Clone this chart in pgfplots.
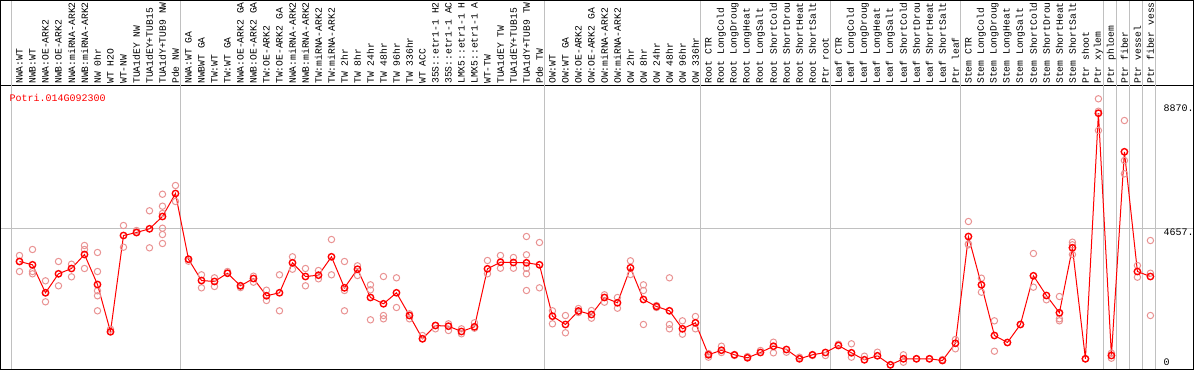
\documentclass[border=0pt]{standalone}
\usepackage{pgfplots}
\pgfplotsset{compat=1.18}
\usepackage{fontspec}
\newfontfamily\lmono{Liberation Mono}
\newcommand{\mf}{\lmono\fontsize{10}{12}\selectfont}
\newcommand{\tf}{\lmono\fontsize{9.7}{12}\selectfont}
\definecolor{rep}{RGB}{233,146,146}
\definecolor{gridc}{RGB}{192,192,192}
\begin{document}
\begin{tikzpicture}
\begin{axis}[
  scale only axis, width=1193pt, height=284pt,
  xmin=-1.461538, xmax=90.307692, ymin=-122.3, ymax=9526.6,
  axis line style={black, line width=1pt},
  clip=false,
  xtick={0,...,87},
  xticklabel pos=upper,
  xticklabel style={rotate=90, anchor=west, font=\tf, inner xsep=1.5pt, inner ysep=0pt},
  xticklabels={NWA:WT, NWB:WT, NWA:OE-ARK2, NWB:OE-ARK2, NWA:miRNA-ARK2, NWB:miRNA-ARK2, NW 0hr, WT H2O, WT-NW, TUA1dEY NW, TUA1dEY+TUB15, TUA1dY+TUB9 NW, Pde NW, NWA:WT GA, NWBWT GA, TW:WT, TW:WT GA, NWA:OE-ARK2 GA, NWB:OE-ARK2 GA, TW:OE-ARK2, TW:OE-ARK2 GA, NWA:miRNA-ARK2, NWB:miRNA-ARK2, TW:miRNA-ARK2, TW:miRNA-ARK2, TW 2hr, TW 8hr, TW 24hr, TW 48hr, TW 96hr, TW 336hr, WT ACC, 35S::etr1-1 H2, 35S::etr1-1 AC, LMX5::etr1-1 H, LMX5::etr1-1 A, WT-TW, TUA1dEY TW, TUA1dEY+TUB15, TUA1dY+TUB9 TW, Pde TW, OW:WT, OW:WT GA, OW:OE-ARK2, OW:OE-ARK2 GA, OW:miRNA-ARK2, OW:miRNA-ARK2, OW 2hr, OW 8hr, OW 24hr, OW 48hr, OW 96hr, OW 336hr, Root CTR, Root LongCold, Root LongDroug, Root LongHeat, Root LongSalt, Root ShortCold, Root ShortDrou, Root ShortHeat, Root ShortSalt, Ptr root, Leaf CTR, Leaf LongCold, Leaf LongDroug, Leaf LongHeat, Leaf LongSalt, Leaf ShortCold, Leaf ShortDrou, Leaf ShortHeat, Leaf ShortSalt, Ptr leaf, Stem CTR, Stem LongCold, Stem LongDroug, Stem LongHeat, Stem LongSalt, Stem ShortCold, Stem ShortDrou, Stem ShortHeat, Stem ShortSalt, Ptr shoot, Ptr xylem, Ptr phloem, Ptr fiber, Ptr vessel, Ptr fiber vess},
  major tick length=0pt,
  ytick={4657}, yticklabels={},
  ymajorgrids, grid style={gridc, line width=1pt},
]
% group separators
\pgfplotsinvokeforeach{-0.6,12.41,40.41,52.41,62.41,72.41,83.41,84.41,85.41,86.41,87.38}{
  \draw[gridc, line width=1pt] (axis cs:#1,-122.3) -- ++(0pt,380pt);
}
% replicates
\addplot[only marks, mark=o, mark size=3.2pt, color=rep, mark options={line width=1pt}] coordinates {
(0,3751)(0,3207)(0,3547)(1,3955)(1,3207)(1,3129)(2,2891)(2,2178)(2,2484)(3,3547)(3,2721)
(4,3455)(4,3027)(5,4091)(5,3955)(5,3309)(6,3853)(6,3207)(6,2552)(6,2382)(6,1872)
(7,1247)(7,1159)(8,4770)(8,4033)(9,4532)(9,4600)(10,5270)(10,4012)
(11,5833)(11,5426)(11,5178)(11,4678)(11,4464)(11,4159)(12,6129)(12,5586)
(13,3557)(13,3625)(14,3095)(14,2653)(15,2993)(15,2698)(16,3149)(16,3207)(17,2721)(17,2660)
(18,3048)(18,2844)(19,2572)(19,2222)(20,3095)(20,1872)(21,3707)(21,3285)(22,3309)(22,2721)
(23,3241)(23,2959)(24,4294)(24,3095)(25,3547)(25,2562)(25,1872)(26,3401)(26,3071)
(27,2755)(27,2585)(27,1566)(28,3037)(28,1712)(28,1600)(29,2993)(29,1984)(30,1600)(30,1770)
(31,1033)(31,921)(32,1260)(32,1373)(33,1430)(33,1203)(34,1260)(34,1091)(35,1464)(35,1281)
(36,3581)(36,3129)(37,3751)(37,3319)(38,3683)(38,3319)
(39,4396)(39,3775)(39,3319)(39,3129)(39,2562)(40,4193)(40,2653)(41,1872)(41,1430)(42,1712)(42,1125)
(43,1950)(43,1814)(44,1882)(44,1621)(45,2416)(45,2164)(46,2324)(46,1960)(47,3571)(47,3105)
(48,2755)(48,2562)(48,1407)(49,2052)(49,1984)(50,2993)(50,1407)(50,1260)(51,1532)(51,1077)
(52,1678)(52,1260)(53,296)(53,421)(54,669)(54,455)(55,353)(56,319)(57,523)(58,805)(58,445)
(59,465)(60,296)(61,353)(62,353)(63,737)(64,751)(64,296)(65,330)(66,465)(67,37)(68,377)(68,126)
(69,241)(70,241)(71,217)(72,897)(72,581)(73,4906)(73,4148)(73,4114)(74,2980)(74,2504)
(75,1532)(75,499)(76,795)(77,1407)(78,3819)(78,2674)(79,2246)(80,2358)(80,1600)(80,1532)
(81,4203)(81,4114)(81,3785)(82,241)(83,9075)(83,8653)(83,7998)(84,431)(84,262)
(85,8337)(85,6978)(85,6527)(86,3411)(86,3014)(87,4260)(87,3149)(87,1712)
};
% means
\addplot[color=red, line width=1pt, mark=o, mark size=3.2pt, mark options={line width=1.4pt, fill=white}] coordinates {
(0,3547)(1,3435)(2,2484)(3,3129)(4,3309)(5,3785)(6,2766)(7,1159)(8,4430)(9,4532)(10,4658)(11,5076)(12,5857)(13,3625)(14,2901)(15,2868)(16,3149)(17,2721)(18,2969)(19,2382)(20,2484)(21,3503)(22,3037)(23,3082)(24,3707)(25,2653)(26,3285)(27,2324)(28,2110)(29,2484)(30,1712)(31,921)(32,1373)(33,1349)(34,1169)(35,1328)(36,3299)(37,3523)(38,3513)(39,3503)(40,3435)(41,1689)(42,1407)(43,1865)(44,1746)(45,2324)(46,2144)(47,3333)(48,2256)(49,2018)(50,1872)(51,1260)(52,1464)(53,377)(54,533)(55,377)(56,275)(57,455)(58,669)(59,557)(60,241)(61,377)(62,455)(63,693)(64,445)(65,207)(66,343)(67,37)(68,241)(69,241)(70,241)(71,183)(72,768)(73,4396)(74,2755)(75,1033)(76,795)(77,1407)(78,3061)(79,2392)(80,1804)(81,4012)(82,241)(83,8585)(84,353)(85,7274)(86,3207)(87,3037)
};
\end{axis}
\node[anchor=west, inner sep=0pt, text=red, font=\mf] at (9pt,272pt) {Potri.014G092300};
\node[anchor=west, inner sep=0pt, font=\mf] at (1163pt,261.3pt) {8870.};
\node[anchor=west, inner sep=0pt, font=\mf] at (1163pt,137.3pt) {4657.};
\node[anchor=west, inner sep=0pt, font=\mf] at (1163pt,7.3pt) {0};
\draw[black, line width=1pt] (0pt,0pt) rectangle (1193pt,369pt);
\pgfresetboundingbox
\path[use as bounding box] (-0.5pt,-0.5pt) rectangle (1193.5pt,369.5pt);
\end{tikzpicture}
\end{document}
